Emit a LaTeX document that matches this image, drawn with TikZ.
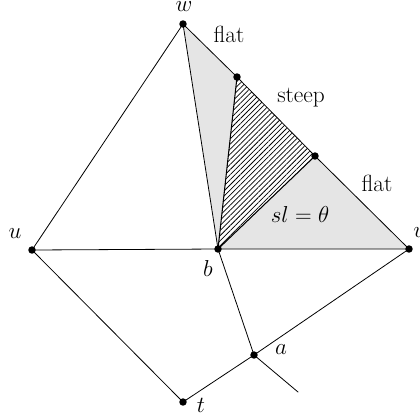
\documentclass[tikz,border=0pt]{standalone}
\usetikzlibrary{patterns.meta}
\begin{document}
\begin{tikzpicture}[
  x=0.75pt, y=-0.75pt,
  dot/.style={circle, fill=black, inner sep=0pt, minimum size=5.6pt},
  edge/.style={black, line width=0.6pt, line cap=round},
  lbl/.style={font=\fontsize{17.5}{21}\selectfont, inner sep=0pt},
  hatch/.style={pattern={Lines[angle=45, distance=2.7pt, line width=0.55pt]}},
]
\useasboundingbox (0,0) rectangle (420,415);

%% ── vertices ──────────────────────────────────────────────────────
\coordinate (w) at (183, 24);
\coordinate (p) at (237, 77);
\coordinate (q) at (315,156);
\coordinate (v) at (409,249);
\coordinate (b) at (218,249);
\coordinate (u) at (32, 250);
\coordinate (t) at (183,402);
\coordinate (a) at (254,355);
\coordinate (e) at (298,392);

%% ── shaded cells ──────────────────────────────────────────────────
\fill[gray!20] (w) -- (b) -- (v) -- cycle;
\fill[white] (b) -- (p) -- (q) -- cycle;
\fill[hatch] (b) -- (p) -- (q) -- cycle;

%% ── edges ─────────────────────────────────────────────────────────
\draw[edge] (w) -- (u);
\draw[edge] (w) -- (b);
\draw[edge] (w) -- (p) -- (q) -- (v);
\draw[edge] (u) -- (b) -- (v);
\draw[edge] (u) -- (t) -- (a) -- (v);
\draw[edge] (b) -- (a) -- (e);
\draw[edge, line width=0.8pt] (b) -- (p);
\draw[edge, line width=0.8pt] (b) -- (q);

%% ── dots and labels ───────────────────────────────────────────────
\foreach \n in {w,p,q,v,b,u,t,a}
  \node[dot] (\n dot) at (\n) {};

\node[lbl] at (184, 7)  {$w$};
\node[lbl] at (15, 234) {$u$};
\node[lbl, anchor=west] at (413,233) {$v$};
\node[lbl] at (208,268) {$b$};
\node[lbl] at (201,405) {$t$};
\node[lbl] at (281,350) {$a$};

\node[lbl] at (229, 34) {flat};
\node[lbl] at (301, 98) {steep};
\node[lbl] at (377,183) {flat};
\node[lbl] at (300,214) {$sl=\theta$};
\end{tikzpicture}
\end{document}
